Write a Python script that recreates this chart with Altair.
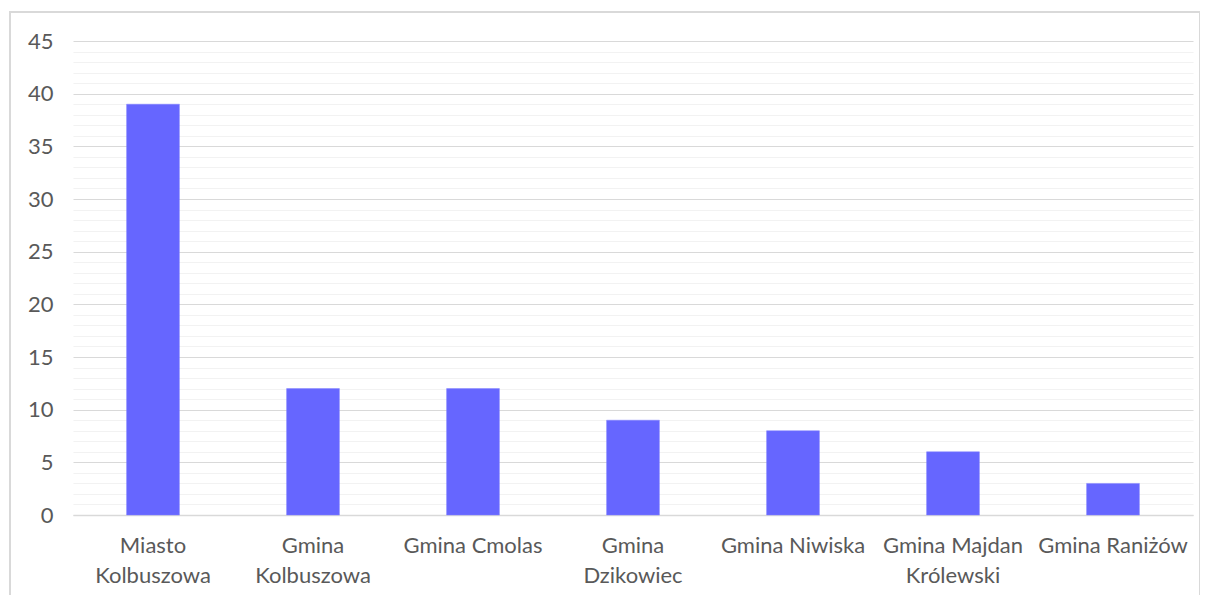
import altair as alt
import pandas as pd

categories = ["Miasto Kolbuszowa", "Gmina Kolbuszowa", "Gmina Cmolas", "Gmina Dzikowiec",
              "Gmina Niwiska", "Gmina Majdan Królewski", "Gmina Raniżów"]
values = [39, 12, 12, 9, 8, 6, 3]
label_lines = {
    "Miasto Kolbuszowa": ["Miasto", "Kolbuszowa"],
    "Gmina Kolbuszowa": ["Gmina", "Kolbuszowa"],
    "Gmina Dzikowiec": ["Gmina", "Dzikowiec"],
    "Gmina Majdan Królewski": ["Gmina Majdan", "Królewski"],
}

df = pd.DataFrame({"cat": categories, "val": values})

expr = "datum.label"
for k, v in label_lines.items():
    arr = "[" + ",".join("'" + s + "'" for s in v) + "]"
    expr = f"datum.label == '{k}' ? {arr} : ({expr})"

FONT = "Lato"
TXT = "#595959"

bars = alt.Chart(df).mark_bar(color="#6666ff", stroke="#8080ff", strokeWidth=0.5).encode(
    x=alt.X("cat:N", sort=categories, title=None,
            scale=alt.Scale(paddingInner=0.67, paddingOuter=0.335),
            axis=alt.Axis(labelAngle=0, labelExpr=expr, labelLineHeight=30,
                          labelFont=FONT, labelFontSize=22, labelColor=TXT,
                          labelPadding=20, ticks=False, domain=True,
                          domainColor="#d9d9d9", domainWidth=1.5, grid=False,
                          labelLimit=300)),
    y=alt.Y("val:Q", title=None,
            scale=alt.Scale(domain=[0, 45], nice=False),
            axis=alt.Axis(values=list(range(0, 46)),
                          labelExpr="datum.value % 5 === 0 ? datum.label : ''",
                          labelFont=FONT, labelFontSize=22, labelColor=TXT,
                          labelPadding=20, ticks=False, domain=False,
                          grid=True,
                          gridColor={"condition": {"test": "datum.value % 5 === 0", "value": "#d9d9d9"},
                                     "value": "#f2f2f2"},
                          gridWidth=1.2)),
)

frame = alt.Chart(alt.Data(values=[{}])).mark_rect(
    fill=None, stroke="#d9d9d9", strokeWidth=2, clip=False
).encode(
    x=alt.value(-63), x2=alt.value(1127), y=alt.value(-29), y2=alt.value(580)
)

chart = alt.layer(frame, bars).properties(
    width=1120, height=474,
    padding={"left": 65, "top": 33, "right": 7, "bottom": 80},
    autosize=alt.AutoSizeParams(type="none"),
).configure_view(stroke=None)

chart.save("out.html", embed_options={"renderer": "svg", "actions": False})
